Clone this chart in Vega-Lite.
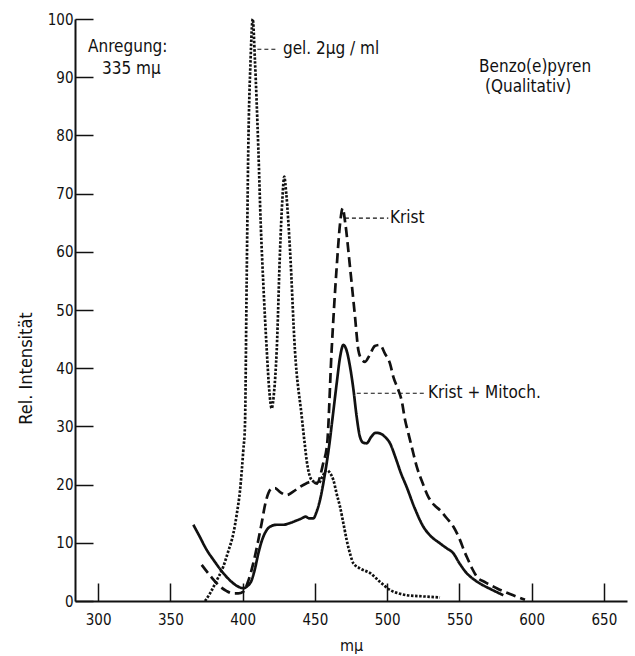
{
  "$schema": "https://vega.github.io/schema/vega-lite/v6.json",
  "width": 552,
  "height": 582,
  "autosize": {"type": "none"},
  "padding": {"left": 75, "top": 19, "right": 8, "bottom": 55},
  "background": "white",
  "config": {"view": {"stroke": null}, "font": "DejaVu Sans Condensed, Liberation Sans Narrow, DejaVu Sans"},
  "datasets": {
    "curves": [
      {"s": "gel", "wl": 374, "v": 0},
      {"s": "gel", "wl": 377.4, "v": 1.3},
      {"s": "gel", "wl": 382, "v": 3.5},
      {"s": "gel", "wl": 386.6, "v": 5.9},
      {"s": "gel", "wl": 390, "v": 8.5},
      {"s": "gel", "wl": 393.6, "v": 11.6},
      {"s": "gel", "wl": 396, "v": 15},
      {"s": "gel", "wl": 398.2, "v": 19},
      {"s": "gel", "wl": 400.5, "v": 26},
      {"s": "gel", "wl": 401.6, "v": 30},
      {"s": "gel", "wl": 402.8, "v": 55},
      {"s": "gel", "wl": 403.9, "v": 77.5},
      {"s": "gel", "wl": 405.5, "v": 93},
      {"s": "gel", "wl": 407, "v": 100},
      {"s": "gel", "wl": 408.5, "v": 93},
      {"s": "gel", "wl": 410.9, "v": 77.5},
      {"s": "gel", "wl": 412.5, "v": 65},
      {"s": "gel", "wl": 414.3, "v": 54.6},
      {"s": "gel", "wl": 416.7, "v": 43.1},
      {"s": "gel", "wl": 418.5, "v": 36},
      {"s": "gel", "wl": 420.1, "v": 33.1},
      {"s": "gel", "wl": 421.8, "v": 36},
      {"s": "gel", "wl": 423.6, "v": 43.1},
      {"s": "gel", "wl": 425.9, "v": 60.3},
      {"s": "gel", "wl": 427.5, "v": 69},
      {"s": "gel", "wl": 428.8, "v": 72.9},
      {"s": "gel", "wl": 430.2, "v": 70},
      {"s": "gel", "wl": 432.8, "v": 60.3},
      {"s": "gel", "wl": 436.2, "v": 43.1},
      {"s": "gel", "wl": 440.9, "v": 31.7},
      {"s": "gel", "wl": 443.2, "v": 26.5},
      {"s": "gel", "wl": 444.3, "v": 24.2},
      {"s": "gel", "wl": 447.8, "v": 20.8},
      {"s": "gel", "wl": 452.4, "v": 20.2},
      {"s": "gel", "wl": 455.5, "v": 21.5},
      {"s": "gel", "wl": 458.2, "v": 22.5},
      {"s": "gel", "wl": 460.5, "v": 22},
      {"s": "gel", "wl": 462.8, "v": 20.8},
      {"s": "gel", "wl": 465, "v": 18.5},
      {"s": "gel", "wl": 467.4, "v": 16.2},
      {"s": "gel", "wl": 470, "v": 13},
      {"s": "gel", "wl": 472, "v": 10.5},
      {"s": "gel", "wl": 474.5, "v": 8},
      {"s": "gel", "wl": 476.6, "v": 6.5},
      {"s": "gel", "wl": 482, "v": 5.5},
      {"s": "gel", "wl": 488.2, "v": 4.8},
      {"s": "gel", "wl": 495, "v": 3.3},
      {"s": "gel", "wl": 502, "v": 1.9},
      {"s": "gel", "wl": 508, "v": 1.3},
      {"s": "gel", "wl": 513.5, "v": 1.0},
      {"s": "gel", "wl": 525, "v": 0.8},
      {"s": "gel", "wl": 536.6, "v": 0.6},

      {"s": "krist", "wl": 371.7, "v": 6.2},
      {"s": "krist", "wl": 378, "v": 4.2},
      {"s": "krist", "wl": 384.3, "v": 2.5},
      {"s": "krist", "wl": 389, "v": 1.7},
      {"s": "krist", "wl": 393.6, "v": 1.3},
      {"s": "krist", "wl": 397, "v": 1.3},
      {"s": "krist", "wl": 400.5, "v": 1.6},
      {"s": "krist", "wl": 404, "v": 3.5},
      {"s": "krist", "wl": 407.4, "v": 6.5},
      {"s": "krist", "wl": 410.5, "v": 10},
      {"s": "krist", "wl": 413.2, "v": 13.4},
      {"s": "krist", "wl": 415.5, "v": 16.5},
      {"s": "krist", "wl": 417.8, "v": 18.5},
      {"s": "krist", "wl": 420, "v": 19.3},
      {"s": "krist", "wl": 422.4, "v": 19.4},
      {"s": "krist", "wl": 426, "v": 18.7},
      {"s": "krist", "wl": 430.5, "v": 18.2},
      {"s": "krist", "wl": 435, "v": 18.8},
      {"s": "krist", "wl": 439.7, "v": 19.6},
      {"s": "krist", "wl": 444, "v": 20.2},
      {"s": "krist", "wl": 447.8, "v": 20.5},
      {"s": "krist", "wl": 451.3, "v": 20.2},
      {"s": "krist", "wl": 455.8, "v": 23.7},
      {"s": "krist", "wl": 458.5, "v": 27},
      {"s": "krist", "wl": 461.6, "v": 43.1},
      {"s": "krist", "wl": 465.1, "v": 57.4},
      {"s": "krist", "wl": 467.5, "v": 65},
      {"s": "krist", "wl": 469.2, "v": 67.5},
      {"s": "krist", "wl": 471, "v": 65},
      {"s": "krist", "wl": 474.3, "v": 57.4},
      {"s": "krist", "wl": 477.8, "v": 48.8},
      {"s": "krist", "wl": 480.1, "v": 43.1},
      {"s": "krist", "wl": 482.5, "v": 41.5},
      {"s": "krist", "wl": 484.7, "v": 41.1},
      {"s": "krist", "wl": 488, "v": 42.3},
      {"s": "krist", "wl": 491.5, "v": 43.8},
      {"s": "krist", "wl": 495, "v": 44},
      {"s": "krist", "wl": 498.5, "v": 42.5},
      {"s": "krist", "wl": 502, "v": 40.8},
      {"s": "krist", "wl": 504.3, "v": 38.5},
      {"s": "krist", "wl": 507.7, "v": 36.3},
      {"s": "krist", "wl": 510, "v": 34.5},
      {"s": "krist", "wl": 512.5, "v": 31},
      {"s": "krist", "wl": 514.7, "v": 28.8},
      {"s": "krist", "wl": 517.5, "v": 26},
      {"s": "krist", "wl": 520.5, "v": 23.1},
      {"s": "krist", "wl": 524.5, "v": 20.3},
      {"s": "krist", "wl": 528.5, "v": 17.9},
      {"s": "krist", "wl": 532.5, "v": 16.5},
      {"s": "krist", "wl": 536.6, "v": 15.6},
      {"s": "krist", "wl": 541, "v": 14.3},
      {"s": "krist", "wl": 545.8, "v": 12.8},
      {"s": "krist", "wl": 550.4, "v": 10.5},
      {"s": "krist", "wl": 553.5, "v": 8.5},
      {"s": "krist", "wl": 556.2, "v": 7},
      {"s": "krist", "wl": 559, "v": 5.5},
      {"s": "krist", "wl": 562, "v": 4.2},
      {"s": "krist", "wl": 568, "v": 3.2},
      {"s": "krist", "wl": 575.8, "v": 2.2},
      {"s": "krist", "wl": 585, "v": 1.2},
      {"s": "krist", "wl": 595.4, "v": 0.2},

      {"s": "mito", "wl": 365.9, "v": 13.1},
      {"s": "mito", "wl": 370, "v": 11.2},
      {"s": "mito", "wl": 375.1, "v": 8.8},
      {"s": "mito", "wl": 380, "v": 7.0},
      {"s": "mito", "wl": 386.6, "v": 4.8},
      {"s": "mito", "wl": 391, "v": 3.6},
      {"s": "mito", "wl": 396, "v": 2.6},
      {"s": "mito", "wl": 400.5, "v": 2.2},
      {"s": "mito", "wl": 403.5, "v": 2.6},
      {"s": "mito", "wl": 406.3, "v": 3.6},
      {"s": "mito", "wl": 408.5, "v": 5.5},
      {"s": "mito", "wl": 410.9, "v": 8.2},
      {"s": "mito", "wl": 413.5, "v": 10.5},
      {"s": "mito", "wl": 416.7, "v": 12.2},
      {"s": "mito", "wl": 420, "v": 12.9},
      {"s": "mito", "wl": 423.6, "v": 13.1},
      {"s": "mito", "wl": 428, "v": 13.1},
      {"s": "mito", "wl": 432.8, "v": 13.4},
      {"s": "mito", "wl": 437, "v": 13.8},
      {"s": "mito", "wl": 440.9, "v": 14.2},
      {"s": "mito", "wl": 443.5, "v": 14.5},
      {"s": "mito", "wl": 446, "v": 14.2},
      {"s": "mito", "wl": 449, "v": 14.2},
      {"s": "mito", "wl": 451, "v": 15.2},
      {"s": "mito", "wl": 453.6, "v": 17.4},
      {"s": "mito", "wl": 457, "v": 21.9},
      {"s": "mito", "wl": 459.8, "v": 26.5},
      {"s": "mito", "wl": 462.5, "v": 32},
      {"s": "mito", "wl": 465.1, "v": 37.4},
      {"s": "mito", "wl": 467.5, "v": 42},
      {"s": "mito", "wl": 469.7, "v": 44},
      {"s": "mito", "wl": 472, "v": 43},
      {"s": "mito", "wl": 474.3, "v": 40.3},
      {"s": "mito", "wl": 476.6, "v": 36.5},
      {"s": "mito", "wl": 478.9, "v": 31.7},
      {"s": "mito", "wl": 481.2, "v": 28.2},
      {"s": "mito", "wl": 483.5, "v": 27.2},
      {"s": "mito", "wl": 485.8, "v": 27.1},
      {"s": "mito", "wl": 489, "v": 28.2},
      {"s": "mito", "wl": 492, "v": 28.9},
      {"s": "mito", "wl": 495, "v": 28.8},
      {"s": "mito", "wl": 498.5, "v": 28.2},
      {"s": "mito", "wl": 502, "v": 27.1},
      {"s": "mito", "wl": 506, "v": 24.5},
      {"s": "mito", "wl": 509.5, "v": 22},
      {"s": "mito", "wl": 513.5, "v": 19.6},
      {"s": "mito", "wl": 519, "v": 16},
      {"s": "mito", "wl": 525, "v": 12.8},
      {"s": "mito", "wl": 530, "v": 11.2},
      {"s": "mito", "wl": 536.6, "v": 9.9},
      {"s": "mito", "wl": 541, "v": 9.1},
      {"s": "mito", "wl": 545.8, "v": 8.2},
      {"s": "mito", "wl": 550, "v": 6.5},
      {"s": "mito", "wl": 555, "v": 4.8},
      {"s": "mito", "wl": 559.5, "v": 3.8},
      {"s": "mito", "wl": 564.3, "v": 3.0},
      {"s": "mito", "wl": 572, "v": 2.0},
      {"s": "mito", "wl": 580.4, "v": 1.0}
    ],
    "leaders": [
      {"wl": 410.2, "wl2": 424, "v": 94.8},
      {"wl": 470.8, "wl2": 500.8, "v": 65.8},
      {"wl": 479, "wl2": 527.4, "v": 35.7}
    ],
    "labels": [
      {"t": "Anregung:", "wl": 293, "v": 95.2},
      {"t": "335 mμ", "wl": 302.7, "v": 91.4},
      {"t": "gel. 2μg / ml", "wl": 427.9, "v": 94.8},
      {"t": "Benzo(e)pyren", "wl": 563.6, "v": 91.8},
      {"t": "(Qualitativ)", "wl": 567.7, "v": 88.3},
      {"t": "Krist", "wl": 502, "v": 65.8},
      {"t": "Krist + Mitoch.", "wl": 528.3, "v": 35.7}
    ]
  },
  "layer": [
    {
      "data": {"name": "curves"},
      "mark": {"type": "line", "interpolate": "monotone", "strokeWidth": 2.7, "color": "#111", "strokeCap": "butt"},
      "encoding": {
        "x": {
          "field": "wl", "type": "quantitative",
          "scale": {"domain": [284, 666], "nice": false, "zero": false},
          "axis": {
            "values": [300, 350, 400, 450, 500, 550, 600, 650],
            "grid": false, "tickSize": -18, "tickWidth": 1.5, "tickColor": "#111",
            "domainColor": "#111", "domainWidth": 2,
            "labelFontSize": 15, "labelColor": "#111", "labelPadding": 29, "labelFlush": false,
            "title": "mμ", "titleFontSize": 16, "titleFontWeight": "normal", "titleColor": "#111",
            "titleY": 44, "titleBaseline": "middle"
          }
        },
        "y": {
          "field": "v", "type": "quantitative",
          "scale": {"domain": [0, 100], "nice": false, "zero": false},
          "axis": {
            "values": [0, 10, 20, 30, 40, 50, 60, 70, 80, 90, 100],
            "grid": false, "tickSize": -18, "tickWidth": 1.5, "tickColor": "#111",
            "domainColor": "#111", "domainWidth": 2,
            "labelFontSize": 15, "labelColor": "#111", "labelPadding": 20, "labelFlush": false,
            "title": "Rel. Intensität", "titleFontSize": 18, "titleFontWeight": "normal", "titleColor": "#111",
            "titleX": -49, "titleY": 349, "titleBaseline": "middle", "titleAlign": "center"
          }
        },
        "detail": {"field": "s"},
        "strokeDash": {
          "field": "s", "type": "nominal", "legend": null,
          "scale": {"domain": ["gel", "krist", "mito"], "range": [[2.5, 1.6], [10, 5], [1, 0]]}
        }
      }
    },
    {
      "data": {"name": "leaders"},
      "mark": {"type": "rule", "strokeWidth": 1.2, "strokeDash": [4, 3], "color": "#111"},
      "encoding": {
        "x": {"field": "wl", "type": "quantitative"},
        "x2": {"field": "wl2"},
        "y": {"field": "v", "type": "quantitative"}
      }
    },
    {
      "data": {"name": "labels"},
      "mark": {"type": "text", "align": "left", "baseline": "middle", "fontSize": 17, "color": "#111"},
      "encoding": {
        "x": {"field": "wl", "type": "quantitative"},
        "y": {"field": "v", "type": "quantitative"},
        "text": {"field": "t"}
      }
    }
  ]
}
